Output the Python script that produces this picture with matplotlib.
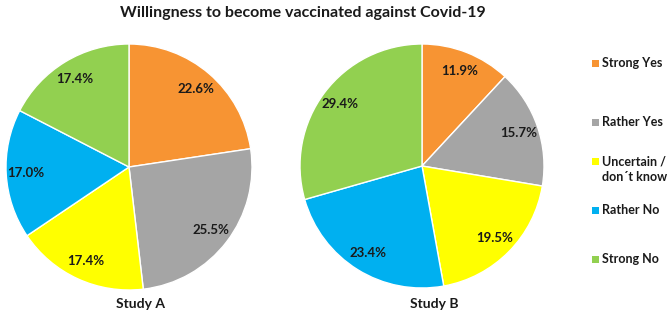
import matplotlib
matplotlib.use("Agg")
import matplotlib.pyplot as plt
from matplotlib.patches import Rectangle

plt.rcParams['font.family'] = ['Lato', 'DejaVu Sans']

categories = ["Strong Yes", "Rather Yes", "Uncertain /\ndon\u00b4t know", "Rather No", "Strong No"]
study_a = [22.6, 25.5, 17.4, 17.0, 17.4]
study_b = [11.9, 15.7, 19.5, 23.4, 29.4]
colors = ["#F79433", "#A5A5A5", "#FFFF00", "#00B0F0", "#92D050"]
title = "Willingness to become vaccinated against Covid-19"

W, H = 670, 316
fig = plt.figure(figsize=(W / 100, H / 100), dpi=100)

def pie_axes(cx, cy, r):
    return fig.add_axes([(cx - r) / W, (H - cy - r) / H, 2 * r / W, 2 * r / H])

def draw(ax, vals, name, lx):
    ax.pie(vals, colors=colors, startangle=90, counterclock=False,
           autopct=lambda p: f"{p:.1f}%", pctdistance=0.84,
           wedgeprops=dict(edgecolor="white", linewidth=1),
           textprops=dict(fontsize=9.5, fontweight="bold", color="#1a1a1a"))
    ax.set_xlim(-1, 1)
    ax.set_ylim(-1, 1)
    ax.set_aspect("equal")
    ax.axis("off")
    fig.text(lx / W, 1 - 304 / H, name, ha="center", va="center",
             fontsize=10, fontweight="bold", color="#1a1a1a")

axA = pie_axes(129, 167, 123)
draw(axA, study_a, "Study A", 140)
axB = pie_axes(422, 166, 122)
draw(axB, study_b, "Study B", 434)

fig.text(303 / W, 1 - 13 / H, title, ha="center", va="center",
         fontsize=11.5, fontweight="bold", color="#1a1a1a")

# legend drawn manually (positions in pixels from top-left)
leg_y = [63, 122, 169.5, 210, 259]
for cat, col, y in zip(categories, colors, leg_y):
    sq_y = y if "\n" not in cat else 161
    fig.patches.append(Rectangle((592 / W, 1 - (sq_y + 3.5) / H), 7 / W, 7 / H,
                                 transform=fig.transFigure, facecolor=col,
                                 edgecolor="none"))
    fig.text(602 / W, 1 - y / H, cat, ha="left", va="center", fontsize=9,
             fontweight="bold", color="#1a1a1a", linespacing=1.3)

fig.savefig("out.png", dpi=100, facecolor="white")
